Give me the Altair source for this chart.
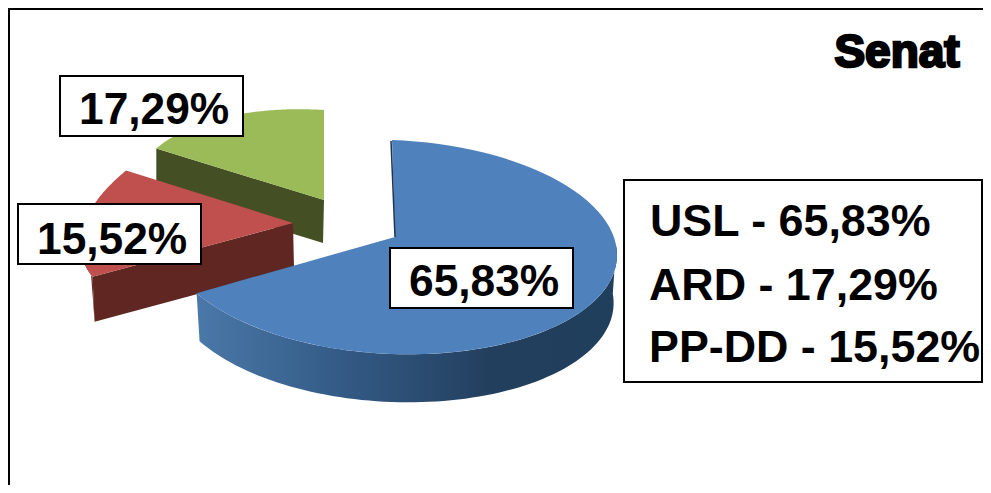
import math
import altair as alt
import pandas as pd

# ---- data
parties = ["USL", "ARD", "PP-DD"]
shares = [65.83, 17.29, 15.52]
share_labels = ["65,83%", "17,29%", "15,52%"]
legend_lines = ["USL - 65,83%", "ARD - 17,29%", "PP-DD - 15,52%"]
chart_title = "Senat"

# ---- layout (image pixels)
OX, OY = 8, 8
W, H = 975, 477
total = sum(shares)
sweep = [s / total * 360 for s in shares]
blue_end = sweep[0]
red_end = blue_end + sweep[2]
green_start = 360 - sweep[1]


def pt(c, t, rx, k, ry, s, dy=0.0, f=1.0):
    a = math.radians(t)
    r = rx - k * math.cos(a)
    return [c[0] + f * r * math.sin(a), c[1] - ry * math.cos(a) + s * math.sin(a) + dy]


def arc(c, t0, t1, rx, k, ry, s, dy=0.0, f=1.0):
    n = 80
    return [pt(c, t0 + (t1 - t0) * i / n, rx, k, ry, s, dy, f) for i in range(n + 1)]


def feature(coords):
    ring = coords + [coords[0]]
    return [{"type": "Feature", "properties": {},
             "geometry": {"type": "Polygon", "coordinates": [ring]}}]


def shape(coords, fill):
    return alt.Chart(alt.Data(values=feature(coords))).mark_geoshape(
        fill=fill, stroke=None, strokeWidth=0
    ).project(type="identity", scale=1, translate=[-OX, -OY])


def wall(c, t0, t1, g, depth, fbot=1.0):
    top = arc(c, t0, t1, *g)
    bot = arc(c, t0, t1, *g, dy=depth, f=fbot)
    return top + bot[::-1]


def grad(stops):
    return alt.Gradient(gradient="linear", x1=0, x2=1, y1=0, y2=0,
                        stops=[alt.GradientStop(offset=o, color=c) for o, c in stops])


# green wedge
g_apex = (324, 200)
g_geo = (188, 0, 90, 12)
g_left = pt(g_apex, green_start, *g_geo)
green_wall = [g_left, list(g_apex), [g_apex[0] - 1, g_apex[1] + 43], [g_left[0], g_left[1] + 43]]
green_top = [list(g_apex)] + arc(g_apex, green_start, 360, *g_geo)

# red wedge
r_apex = (293, 223)
r_geo = (208, 46, 112, 2)
r_front = pt(r_apex, blue_end, *r_geo)
r_bottom = [r_front[0] + 2, r_front[1] + 45]
red_face = [list(r_apex), r_front, r_bottom, [r_apex[0] + 1, r_apex[1] + 45]]
red_outer = arc(r_apex, blue_end, 272, *r_geo) + [r_bottom]
red_top = [list(r_apex)] + arc(r_apex, blue_end, red_end, *r_geo)

# blue wedge
b_center = (392, 247)
b_apex = [395, 237]
b_geo = (225, 0, 107, 8)
blue_wall = wall(b_center, 85, blue_end, b_geo, 48, 0.985)
blue_top = [b_apex] + arc(b_center, 0, blue_end, *b_geo)

layers = [
    shape(green_wall, "#454f24"),
    shape(green_top, "#9bbb59"),
    shape(red_outer, "#642722"),
    shape(red_face, "#5f2622"),
    shape(red_top, "#c0504d"),
    shape(blue_wall, grad([(0, "#4a78a8"), (0.35, "#335a85"), (0.7, "#233f5e"), (1, "#1f3f5c")])),
    shape(blue_top, "#4f81bd"),
]

sliver = alt.Chart(alt.Data(values=[{"type": "Feature", "properties": {},
    "geometry": {"type": "LineString", "coordinates": [[391, 141], b_apex]}}])).mark_geoshape(
    filled=False, stroke="#1f3550", strokeWidth=1.5
).project(type="identity", scale=1, translate=[-OX, -OY])
layers.append(sliver)

one = pd.DataFrame({"a": [0]})


def box(x0, y0, x1, y1):
    return alt.Chart(one).mark_rect(fill="white", stroke="black", strokeWidth=2).encode(
        x=alt.value(x0 - OX), x2=alt.value(x1 - OX), y=alt.value(y0 - OY), y2=alt.value(y1 - OY))


def label(txt, x, y, size=44.3, font="Liberation Sans", weight="bold", align="left", **kw):
    return alt.Chart(pd.DataFrame({"t": [txt]})).mark_text(
        font=font, fontWeight=weight, fontSize=size, align=align, baseline="alphabetic",
        color="black", **kw
    ).encode(x=alt.value(x - OX), y=alt.value(y - OY), text="t:N")


layers += [
    box(60, 76, 243, 136), label(share_labels[1], 79, 124),
    box(18, 204, 201, 264), label(share_labels[2], 37, 254),
    box(390, 248, 573, 308), label(share_labels[0], 409, 296),
    box(624, 180, 982, 382),
    label(legend_lines[0], 650, 236, size=44.8),
    label(legend_lines[1], 649, 300, size=44.8),
    label(legend_lines[2], 649, 362, size=44.8),
    label(chart_title, 897, 67, size=46, align="center", stroke="black", strokeWidth=2.5),
]

# outer frame
frame = [
    alt.Chart(one).mark_rule(color="black", strokeWidth=4).encode(
        x=alt.value(0), x2=alt.value(W), y=alt.value(0)),
    alt.Chart(one).mark_rule(color="black", strokeWidth=4).encode(
        x=alt.value(0), y=alt.value(0), y2=alt.value(H)),
]

chart = alt.layer(*(frame + layers)).properties(
    width=W, height=H, padding=0, background="white",
    autosize=alt.AutoSizeParams(type="none"),
).configure_view(stroke=None)

chart.save("out.html", embed_options={"renderer": "svg", "actions": False})
